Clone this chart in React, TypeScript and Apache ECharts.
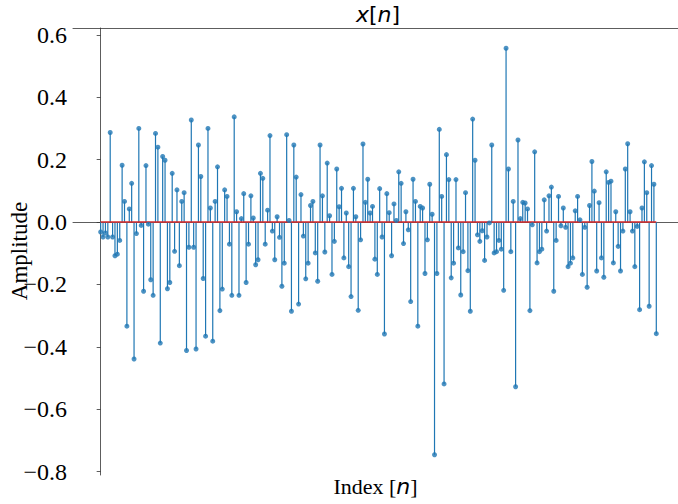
import React, { useEffect, useRef } from "react";
import * as echarts from "echarts";

// Amplitude values x[n], n = 0 .. 233
const amplitude: number[] = [
  -0.032, -0.048, -0.035, -0.048, 0.287, -0.048, -0.108, -0.103, -0.059, 0.182, 0.066, -0.334, 0.042, 0.124, -0.439, -0.037, 0.300, -0.011, -0.222, 0.181, -0.007, -0.185,
  -0.235, 0.284, 0.240, -0.388, 0.210, 0.198, -0.214, -0.194, 0.156, -0.094, 0.103, -0.140, 0.066, 0.094, -0.412, -0.081, 0.327, -0.081, -0.407, 0.247, 0.146, -0.181, -0.366, 0.300,
  0.045, -0.382, 0.066, 0.177, -0.284, -0.215, 0.103, 0.082, -0.071, -0.235, 0.337, 0.033, -0.235, 0.011, 0.091, -0.194, -0.071, 0.084, 0.013, -0.137, -0.121, 0.156, 0.140,
  -0.071, 0.038, 0.277, -0.029, -0.121, 0.017, -0.049, -0.206, -0.132, 0.280, 0.005, -0.286, 0.247, 0.144, -0.263, 0.088, -0.045, -0.182, -0.132, 0.053, 0.066, -0.099, -0.190, 0.247,
  0.084, -0.096, 0.189, 0.020, -0.168, -0.062, 0.170, 0.049, 0.108, -0.115, 0.029, -0.143, -0.239, 0.108, 0.017, -0.283, -0.057, 0.250, 0.063, 0.137, 0.029, 0.050, -0.119,
  -0.168, 0.107, -0.048, -0.359, 0.091, 0.030, -0.108, 0.058, 0.005, 0.161, 0.124, -0.069, 0.033, -0.025, -0.255, 0.137, 0.066, -0.334, 0.050, 0.045, -0.165, -0.057, 0.121, 0.025,
  -0.746, -0.165, 0.297, 0.082, -0.519, 0.216, 0.136, -0.179, -0.132, 0.136, -0.083, -0.234, -0.095, 0.094, -0.156, -0.286, 0.330, 0.198, -0.041, -0.062, -0.028, -0.123, -0.048,
  -0.003, 0.247, -0.099, -0.095, -0.059, -0.087, -0.219, 0.557, 0.170, -0.095, 0.066, -0.528, 0.263, 0.011, 0.063, 0.061, 0.042, -0.284, -0.009, 0.225, -0.131, -0.095, -0.087, 0.071,
  -0.029, 0.084, 0.112, -0.222, -0.059, 0.082, -0.012, 0.045, -0.017, -0.143, -0.132, -0.115, 0.036, 0.082, 0.007, -0.168, -0.017, -0.209, 0.053, 0.194, 0.099, -0.157, 0.062,
  -0.115, -0.177, 0.161, 0.127, 0.131, -0.131, 0.033, -0.078, -0.157, -0.029, 0.170, 0.251, 0.033, -0.029, -0.143, -0.014, -0.281, 0.045, 0.193, 0.094, -0.270, 0.181, 0.121, -0.358,
];

const yTickValues: number[] = [-0.8, -0.6, -0.4, -0.2, 0.0, 0.2, 0.4, 0.6];

const STEM = "#1f77b4";
const BASE = "#d62728";
const SPINE = "#333333";
const SERIF = "Liberation Serif";
const SANS = "DejaVu Sans";

export default function App() {
  const ref = useRef<HTMLDivElement>(null);
  useEffect(() => {
    if (!ref.current) return;
    const chart = echarts.init(ref.current, undefined, { renderer: "svg" });
    const pts = amplitude.map((v, i) => [i, v]);
    const N = amplitude.length;
    chart.setOption({
      animation: false,
      backgroundColor: "#ffffff",
      grid: {
        left: 73,
        right: 0,
        top: 28,
        bottom: 29,
        containLabel: false,
        outerBoundsMode: "none",
      },
      graphic: [
        {
          type: "text",
          x: 378,
          y: 14,
          style: {
            text: "{i|x}{b|[}{i|n}{b|]}",
            align: "center",
            verticalAlign: "middle",
            rich: {
              i: { fontFamily: SANS, fontStyle: "italic", fontSize: 22, fill: "#000" },
              b: { fontFamily: SANS, fontSize: 22, fill: "#000" },
            },
          },
        },
        {
          type: "text",
          x: 19,
          y: 251,
          rotation: Math.PI / 2,
          style: {
            text: "Amplitude",
            align: "center",
            verticalAlign: "middle",
            fontFamily: SERIF,
            fontSize: 23,
            fill: "#000",
          },
        },
      ],
      xAxis: [
        {
          type: "value",
          min: -11.6,
          max: 242.1,
          position: "bottom",
          axisLine: { show: true, lineStyle: { color: SPINE, width: 0.8 } },
          axisTick: { show: false },
          axisLabel: { show: false },
          splitLine: { show: false },
          name: "{s|Index [}{i|n}{s|]}",
          nameLocation: "middle",
          nameGap: 0,
          nameTextStyle: {
            verticalAlign: "top",
            rich: {
              s: { fontFamily: SERIF, fontSize: 22, color: "#000" },
              i: { fontFamily: SANS, fontStyle: "italic", fontSize: 22, color: "#000" },
            },
          },
        },
        {
          type: "value",
          min: -11.6,
          max: 242.1,
          position: "top",
          axisLine: { show: true, lineStyle: { color: SPINE, width: 0.8 } },
          axisTick: { show: false },
          axisLabel: { show: false },
          splitLine: { show: false },
        },
      ],
      yAxis: {
        type: "value",
        min: -0.811,
        max: 0.622,
        axisLine: { show: true, lineStyle: { color: SPINE, width: 0.8 } },
        axisTick: {
          show: true,
          length: 4,
          customValues: yTickValues,
          lineStyle: { color: SPINE, width: 0.8 },
        },
        axisLabel: {
          show: true,
          customValues: yTickValues,
          margin: 6,
          fontFamily: SERIF,
          fontSize: 24,
          color: "#000",
          formatter: (v: number) => v.toFixed(1).replace("-", "\u2212"),
        },
        splitLine: { show: false },
      },
      series: [
        {
          type: "custom",
          name: "stems",
          xAxisIndex: 0,
          data: pts,
          z: 2,
          renderItem: (params: any, api: any) => {
            const x = api.value(0);
            const y = api.value(1);
            const p0 = api.coord([x, 0]);
            const p1 = api.coord([x, y]);
            return {
              type: "line",
              shape: { x1: p0[0], y1: p0[1], x2: p1[0], y2: p1[1] },
              style: { stroke: STEM, lineWidth: 1.2 },
            };
          },
        },
        {
          type: "line",
          name: "baseline",
          data: [
            [0, 0],
            [N - 1, 0],
          ],
          showSymbol: false,
          symbol: "none",
          lineStyle: { color: BASE, width: 1.5 },
          z: 3,
        },
        {
          type: "scatter",
          name: "x[n]",
          data: pts,
          symbol: "circle",
          symbolSize: 5,
          itemStyle: { color: STEM },
          z: 4,
        },
      ],
    });
    return () => chart.dispose();
  }, []);
  return (
    <div
      ref={ref}
      style={{ position: "fixed", left: 0, top: 0, width: 678, height: 504 }}
    />
  );
}
